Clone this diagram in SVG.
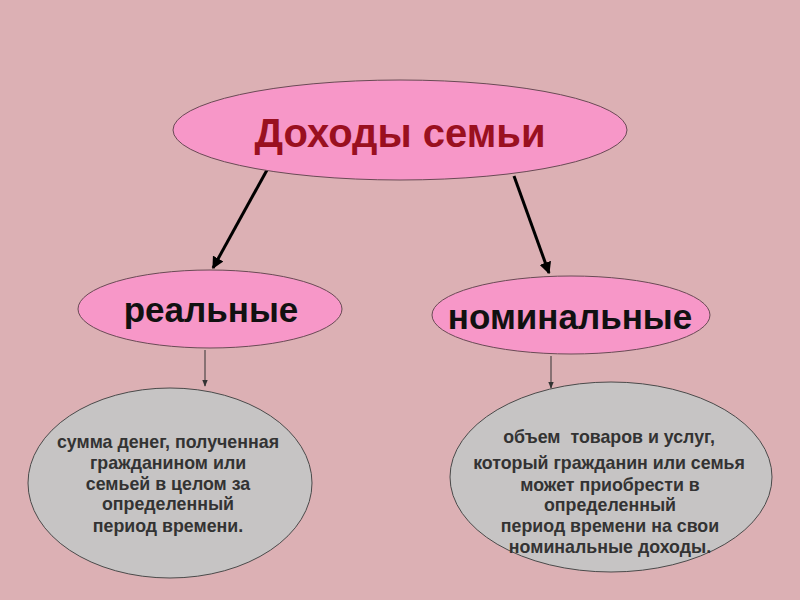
<svg xmlns="http://www.w3.org/2000/svg" width="800" height="600" viewBox="0 0 800 600">
<defs>
<style>
.pink{fill:#f797c8;stroke:#6a4a55;stroke-width:1}
.gray{fill:#c6c4c4;stroke:#4a4a4a;stroke-width:1}
.title{font-family:"Liberation Sans",Arial,sans-serif;font-weight:bold;font-size:40px;fill:#9a1020;text-anchor:middle}
.lbl{font-family:"Liberation Sans",Arial,sans-serif;font-weight:bold;font-size:35px;fill:#111;text-anchor:middle}
.desc{font-family:"Liberation Sans",Arial,sans-serif;font-weight:bold;font-size:17.8px;fill:#333;text-anchor:middle}
.thick{stroke:#000;stroke-width:3;fill:none}
.thin{stroke:#333;stroke-width:1;fill:none}
</style>
<marker id="ah" viewBox="0 0 10 10" refX="9" refY="5" markerWidth="4" markerHeight="4" orient="auto" markerUnits="strokeWidth"><path d="M0,0 L10,5 L0,10 z" fill="#000"/></marker>
<marker id="ahs" viewBox="0 0 10 10" refX="9" refY="5" markerWidth="7" markerHeight="7" orient="auto" markerUnits="strokeWidth"><path d="M0,1 L10,5 L0,9 z" fill="#333"/></marker>
</defs>
<rect width="800" height="600" fill="#dcb0b4"/>
<g id="connectors">
<line class="thick" x1="267" y1="170" x2="213" y2="268" marker-end="url(#ah)"/>
<line class="thick" x1="514" y1="176" x2="549" y2="273" marker-end="url(#ah)"/>
<line class="thin" x1="205" y1="350" x2="205" y2="386" marker-end="url(#ahs)"/>
<line class="thin" x1="551" y1="356" x2="551" y2="388" marker-end="url(#ahs)"/>
</g>
<g id="root">
<ellipse class="pink" cx="400" cy="130" rx="227" ry="50"/>
<text class="title" x="400" y="147">Доходы семьи</text>
</g>
<g id="real">
<ellipse class="pink" cx="210" cy="309" rx="132" ry="39"/>
<text class="lbl" x="211" y="322">реальные</text>
</g>
<g id="nominal">
<ellipse class="pink" cx="571" cy="315" rx="139" ry="39"/>
<text class="lbl" x="570" y="329">номинальные</text>
</g>
<g id="real-desc">
<ellipse class="gray" cx="170" cy="483" rx="142" ry="95"/>
<text class="desc" x="168" y="448">сумма денег, полученная</text>
<text class="desc" x="168" y="469">гражданином или</text>
<text class="desc" x="168" y="490">семьей в целом за</text>
<text class="desc" x="168" y="510">определенный</text>
<text class="desc" x="168" y="532">период времени.</text>
</g>
<g id="nominal-desc">
<ellipse class="gray" cx="611" cy="477" rx="161" ry="95"/>
<text class="desc" x="609" y="443" xml:space="preserve">объем  товаров и услуг,</text>
<text class="desc" x="609" y="469">который гражданин или семья</text>
<text class="desc" x="610" y="491">может приобрести в</text>
<text class="desc" x="610" y="511">определенный</text>
<text class="desc" x="610" y="532">период времени на свои</text>
<text class="desc" x="610" y="553">номинальные доходы.</text>
</g>
</svg>
